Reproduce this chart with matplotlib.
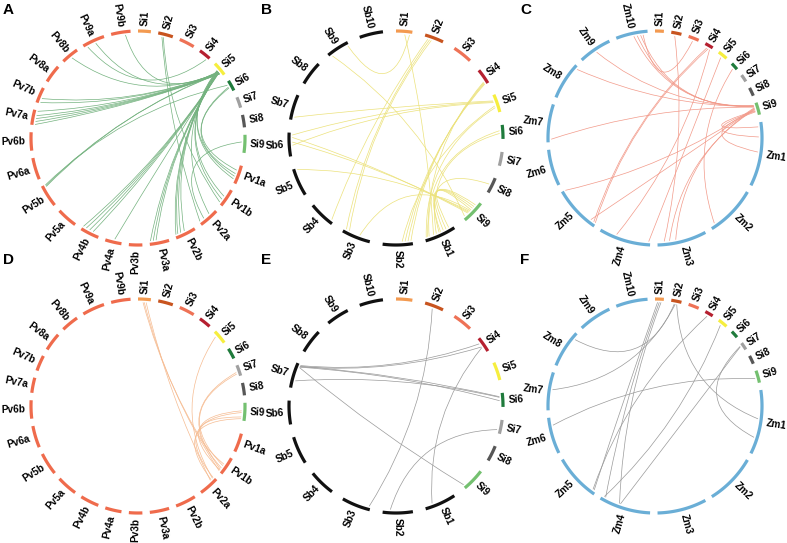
import numpy as np
import matplotlib.pyplot as plt
from matplotlib.path import Path
from matplotlib.patches import PathPatch

plt.rcParams['font.family'] = ['Liberation Sans', 'DejaVu Sans']

# Setaria italica chromosomes (Mb)
si_names = ['Si1', 'Si2', 'Si3', 'Si4', 'Si5', 'Si6', 'Si7', 'Si8', 'Si9']
si_sizes = [42, 49, 51, 40, 47, 36, 36, 41, 59]
si_colors = ['#f39a50', '#c8541f', '#ee7256', '#b52030', '#f6ee3e',
             '#1f7b3c', '#a0a0a0', '#575757', '#74c070']

# Panicum virgatum
pv_names = ['Pv1a', 'Pv1b', 'Pv2a', 'Pv2b', 'Pv3a', 'Pv3b', 'Pv4a', 'Pv4b', 'Pv5a',
            'Pv5b', 'Pv6a', 'Pv6b', 'Pv7a', 'Pv7b', 'Pv8a', 'Pv8b', 'Pv9a', 'Pv9b']
pv_sizes = [62, 60, 66, 68, 64, 44, 54, 62, 68, 74, 72, 60, 50, 52, 60, 58, 74, 64]
pv_color = '#ef6b4c'

# Sorghum bicolor
sb_names = ['Sb1', 'Sb2', 'Sb3', 'Sb4', 'Sb5', 'Sb6', 'Sb7', 'Sb8', 'Sb9', 'Sb10']
sb_sizes = [80.9, 77.7, 74.4, 68.0, 71.9, 61.3, 65.5, 62.7, 59.4, 61.2]
sb_color = '#111111'

# Zea mays
zm_names = ['Zm1', 'Zm2', 'Zm3', 'Zm4', 'Zm5', 'Zm6', 'Zm7', 'Zm8', 'Zm9', 'Zm10']
zm_sizes = [308, 244, 236, 247, 224, 174, 182, 181, 159, 152]
zm_color = '#6aaed6'

# links: (chrom, relative position, chrom, relative position)
links_a = [
    ('Si5', 0.55, 'Pv9b', 0.72), ('Si5', 0.60, 'Pv9a', 0.55), ('Si4', 0.85, 'Pv9a', 0.15),
    ('Si5', 0.62, 'Pv8b', 0.50), ('Si5', 0.66, 'Pv7b', 0.35), ('Si5', 0.68, 'Pv7b', 0.08),
    ('Si5', 0.70, 'Pv7a', 0.95), ('Si5', 0.72, 'Pv7a', 0.65), ('Si5', 0.74, 'Pv7a', 0.45),
    ('Si5', 0.76, 'Pv7a', 0.25), ('Si5', 0.78, 'Pv7a', 0.05), ('Si5', 0.70, 'Pv5b', 0.90),
    ('Si5', 0.74, 'Pv5b', 0.94), ('Si6', 0.30, 'Pv5b', 0.98), ('Si5', 0.62, 'Pv4b', 0.97),
    ('Si5', 0.64, 'Pv4b', 0.79), ('Si5', 0.66, 'Pv4b', 0.58), ('Si5', 0.68, 'Pv4b', 0.37),
    ('Si5', 0.60, 'Pv4a', 0.45), ('Si5', 0.58, 'Pv3a', 0.95), ('Si5', 0.60, 'Pv3a', 0.80),
    ('Si5', 0.62, 'Pv3a', 0.65), ('Si5', 0.55, 'Pv2b', 0.95), ('Si5', 0.57, 'Pv2b', 0.85),
    ('Si5', 0.59, 'Pv2b', 0.70), ('Si5', 0.61, 'Pv2b', 0.50), ('Si2', 0.30, 'Pv2a', 0.95),
    ('Si2', 0.40, 'Pv1b', 0.90), ('Si9', 0.40, 'Pv2a', 0.70), ('Si5', 0.50, 'Pv2a', 0.35),
    ('Si5', 0.52, 'Pv1b', 0.70), ('Si5', 0.50, 'Pv1b', 0.50), ('Si5', 0.48, 'Pv1a', 0.80),
    ('Si5', 0.46, 'Pv1a', 0.65), ('Si6', 0.50, 'Pv1a', 0.50), ('Si6', 0.60, 'Pv1a', 0.30),
]
links_b = [
    ('Si1', 0.85, 'Sb9', 0.94), ('Si1', 0.55, 'Sb1', 0.70), ('Si2', 0.20, 'Sb4', 0.10),
    ('Si2', 0.30, 'Sb3', 0.92), ('Si2', 0.40, 'Sb3', 0.80), ('Si4', 0.85, 'Sb2', 0.05),
    ('Si4', 0.90, 'Sb2', 0.15), ('Si4', 0.95, 'Sb2', 0.25), ('Si4', 0.80, 'Sb1', 0.90),
    ('Si5', 0.30, 'Sb7', 0.12), ('Si5', 0.40, 'Sb6', 0.46), ('Si5', 0.35, 'Sb6', 0.90),
    ('Si5', 0.60, 'Sb2', 0.35), ('Si5', 0.70, 'Sb1', 0.95), ('Si6', 0.40, 'Sb1', 0.85),
    ('Si6', 0.60, 'Sb1', 0.60), ('Si8', 0.50, 'Sb1', 0.50), ('Si9', 0.90, 'Sb9', 0.12),
    ('Si9', 0.70, 'Sb6', 0.80), ('Si9', 0.65, 'Sb6', 0.60), ('Si9', 0.60, 'Sb5', 0.95),
    ('Si9', 0.50, 'Sb1', 0.15), ('Si9', 0.40, 'Sb1', 0.25), ('Si9', 0.30, 'Sb1', 0.35),
    ('Si9', 0.20, 'Sb1', 0.45), ('Si9', 0.55, 'Sb3', 0.40),
]
links_c = [
    ('Si9', 0.15, 'Zm10', 0.55), ('Si9', 0.18, 'Zm10', 0.66), ('Si9', 0.20, 'Zm10', 0.77),
    ('Si9', 0.22, 'Zm9', 0.50), ('Si9', 0.25, 'Zm8', 0.93), ('Si9', 0.30, 'Zm7', 0.08),
    ('Si9', 0.35, 'Zm5', 0.99), ('Si9', 0.40, 'Zm5', 0.14), ('Si9', 0.45, 'Zm3', 0.62),
    ('Si9', 0.50, 'Zm3', 0.75), ('Si9', 0.60, 'Zm1', 0.07), ('Si9', 0.65, 'Zm1', 0.23),
    ('Si9', 0.70, 'Zm1', 0.47), ('Si3', 0.50, 'Zm10', 0.85), ('Si2', 0.40, 'Zm3', 0.86),
    ('Si4', 0.40, 'Zm5', 0.06), ('Si4', 0.60, 'Zm5', 0.02), ('Si4', 0.80, 'Zm4', 0.68),
    ('Si5', 0.50, 'Zm4', 0.03), ('Si6', 0.60, 'Zm2', 0.90),
]
links_d = [
    ('Si1', 0.40, 'Pv1b', 0.85), ('Si1', 0.50, 'Pv1b', 0.95), ('Si1', 0.65, 'Pv2a', 0.25),
    ('Si5', 0.30, 'Pv2a', 0.10), ('Si7', 0.60, 'Pv1b', 0.75), ('Si7', 0.75, 'Pv1b', 0.60),
    ('Si9', 0.45, 'Pv1b', 0.90), ('Si9', 0.55, 'Pv2a', 0.05), ('Si9', 0.80, 'Pv1b', 0.50),
    ('Si9', 0.90, 'Pv2a', 0.20),
]
links_e = [
    ('Si2', 0.45, 'Sb3', 0.05), ('Si4', 0.30, 'Sb7', 0.95), ('Si4', 0.55, 'Sb7', 0.90),
    ('Si4', 0.60, 'Sb1', 0.75), ('Si6', 0.25, 'Sb7', 0.92), ('Si6', 0.55, 'Sb7', 0.88),
    ('Si6', 0.30, 'Sb7', 0.30), ('Si9', 0.95, 'Sb7', 0.86), ('Si7', 0.75, 'Sb2', 0.75),
]
links_f = [
    ('Si1', 0.30, 'Zm5', 0.05), ('Si1', 0.50, 'Zm4', 0.92), ('Si1', 0.70, 'Zm4', 0.62),
    ('Si2', 0.35, 'Zm8', 0.85), ('Si2', 0.45, 'Zm7', 0.55), ('Si2', 0.60, 'Zm1', 0.45),
    ('Si4', 0.45, 'Zm5', 0.08), ('Si5', 0.45, 'Zm4', 0.95), ('Si7', 0.30, 'Zm4', 0.60),
    ('Si7', 0.25, 'Zm1', 0.75), ('Si9', 0.60, 'Zm6', 0.78),
]

W, H = 787, 543
R_PX = 107
PW, PH = 258, 268


def layout(sizes, gap, genome_gap):
    scale = (360 - gap * (len(sizes) - 1) - genome_gap) / sum(sizes)
    spans = []
    a = 0.0
    for i, sz in enumerate(sizes):
        spans.append((a, a + sz * scale))
        a += sz * scale + (genome_gap if i == len(si_sizes) - 1 else gap)
    return spans


def unit(deg):
    t = np.radians(deg)
    return np.array([np.sin(t), np.cos(t)])


def draw_panel(fig, cx, cy, letter, letter_y, other_names, other_sizes, other_color,
               gap, genome_gap, links, link_color):
    ax = fig.add_axes([(cx - PW / 2) / W, (H - cy - PH / 2) / H, PW / W, PH / H])
    ax.set_xlim(-PW / 2 / R_PX, PW / 2 / R_PX)
    ax.set_ylim(-PH / 2 / R_PX, PH / 2 / R_PX)
    ax.axis('off')

    names = si_names + other_names
    sizes = si_sizes + other_sizes
    colors = si_colors + [other_color] * len(other_names)
    spans = dict(zip(names, layout(sizes, gap, genome_gap)))

    for c1, f1, c2, f2 in links:
        a1 = spans[c1][0] + f1 * (spans[c1][1] - spans[c1][0])
        a2 = spans[c2][0] + f2 * (spans[c2][1] - spans[c2][0])
        u1, u2 = unit(a1), unit(a2)
        s = u1 + u2
        n = np.hypot(*s)
        ctrl = 0.3 * s / n if n > 1e-6 else np.zeros(2)
        path = Path([0.97 * u1, ctrl, 0.97 * u2], [Path.MOVETO, Path.CURVE3, Path.CURVE3])
        ax.add_patch(PathPatch(path, fill=False, ec=link_color, lw=0.5))

    for nm, col in zip(names, colors):
        a0, a1 = spans[nm]
        t = np.radians(np.linspace(a0, a1, 60))
        ax.plot(np.sin(t), np.cos(t), color=col, lw=2.3, solid_capstyle='butt')
        m = (a0 + a1) / 2
        x, y = 1.05 * unit(m)
        if m < 180:
            rot, ha = 90 - m, 'left'
        else:
            rot, ha = 270 - m, 'right'
        ax.text(x, y, nm, rotation=rot, ha=ha, va='center', rotation_mode='anchor',
                fontsize=7.2, fontweight='bold')

    fig.text((cx - 135) / W, 1 - letter_y / H, letter, ha='left', va='top',
             fontsize=11, fontweight='bold')


fig = plt.figure(figsize=(W / 100, H / 100), dpi=100)
draw_panel(fig, 138, 138, 'A', 3, pv_names, pv_sizes, pv_color, 4, 7, links_a, '#74b27f')
draw_panel(fig, 396, 138, 'B', 3, sb_names, sb_sizes, sb_color, 7, 7, links_b, '#ece27c')
draw_panel(fig, 655, 138, 'C', 3, zm_names, zm_sizes, zm_color, 4, 4, links_c, '#f29a8a')
draw_panel(fig, 138, 406, 'D', 253, pv_names, pv_sizes, pv_color, 4, 7, links_d, '#f6bc92')
draw_panel(fig, 396, 406, 'E', 253, sb_names, sb_sizes, sb_color, 7, 7, links_e, '#9a9a9a')
draw_panel(fig, 655, 406, 'F', 253, zm_names, zm_sizes, zm_color, 4, 4, links_f, '#9a9a9a')
fig.savefig('out.png', dpi=100)
